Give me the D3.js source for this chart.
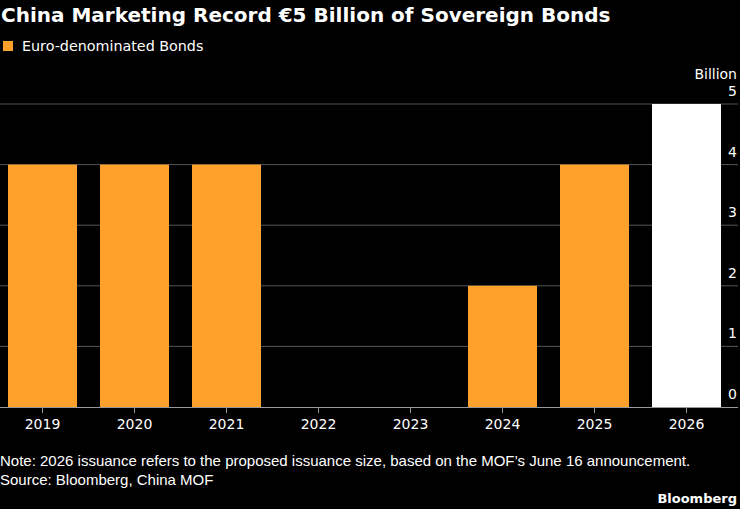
<!DOCTYPE html>
<html>
<head>
<meta charset="utf-8">
<script src="https://cdn.jsdelivr.net/npm/d3@7"></script>
<style>
  html, body { margin: 0; padding: 0; background: #000; }
  svg { display: block; }
  text { fill: #fff; }
</style>
</head>
<body>
<div id="chart"></div>
<script>
const years = ['2019', '2020', '2021', '2022', '2023', '2024', '2025', '2026'];
const amounts = [4, 4, 4, 0, 0, 2, 4, 5];
const proposed = [false, false, false, false, false, false, false, true];
const yTicks = [0, 1, 2, 3, 4, 5];

const W = 740, H = 509;
const plotTop = 104, plotBottom = 407;

const svg = d3.select('#chart').append('svg')
    .attr('width', W).attr('height', H);

svg.append('rect').attr('width', W).attr('height', H).attr('fill', '#000');

// title + legend
svg.append('text')
    .attr('x', 1).attr('y', 22)
    .style('font', 'bold 20px "DejaVu Sans"')
    .text('China Marketing Record €5 Billion of Sovereign Bonds');

svg.append('rect')
    .attr('x', 3).attr('y', 41).attr('width', 10).attr('height', 10)
    .attr('fill', '#ffa12b');
svg.append('text')
    .attr('x', 22).attr('y', 51)
    .style('font', '14.3px "DejaVu Sans"')
    .text('Euro-denominated Bonds');

const x = d3.scaleBand()
    .domain(years)
    .range([-3.5, 732.5])
    .paddingInner(0.25)
    .paddingOuter(0.125);

const y = d3.scaleLinear().domain([0, 5]).range([plotBottom, plotTop]);

// gridlines
svg.append('g')
  .selectAll('line').data(yTicks.filter(d => d > 0)).join('line')
    .attr('x1', 0).attr('x2', 738)
    .attr('y1', d => y(d)).attr('y2', d => y(d))
    .attr('stroke', '#555').attr('stroke-width', 1);

// bars
svg.append('g')
  .selectAll('rect').data(years).join('rect')
    .attr('x', d => x(d))
    .attr('width', x.bandwidth())
    .attr('y', (d, i) => y(amounts[i]))
    .attr('height', (d, i) => y(0) - y(amounts[i]))
    .attr('fill', (d, i) => proposed[i] ? '#ffffff' : '#ffa12b');

// baseline
svg.append('line')
    .attr('x1', 0).attr('x2', 738)
    .attr('y1', y(0) + 0.5).attr('y2', y(0) + 0.5)
    .attr('stroke', '#999');

// y labels (right side, above the lines)
svg.append('g')
  .selectAll('text').data(yTicks).join('text')
    .attr('x', 737).attr('y', d => y(d) - 8)
    .attr('text-anchor', 'end')
    .style('font', '14px "DejaVu Sans"')
    .text(d => d);

svg.append('text')
    .attr('x', 737).attr('y', 79)
    .attr('text-anchor', 'end')
    .style('font', '14px "DejaVu Sans"')
    .text('Billion');

// x axis
const xAxis = svg.append('g')
    .attr('transform', `translate(0,${plotBottom + 1})`)
    .call(d3.axisBottom(x).tickSize(5).tickPadding(6));
xAxis.select('.domain').remove();
xAxis.selectAll('line').attr('stroke', '#999');
xAxis.selectAll('text')
    .attr('fill', '#fff')
    .style('font', '14px "DejaVu Sans"');

// footer
svg.append('text')
    .attr('x', 0).attr('y', 466)
    .style('font', '15px "Liberation Sans"')
    .text('Note: 2026 issuance refers to the proposed issuance size, based on the MOF\u2019s June 16 announcement.');
svg.append('text')
    .attr('x', 0).attr('y', 485)
    .style('font', '15px "Liberation Sans"')
    .text('Source: Bloomberg, China MOF');
svg.append('text')
    .attr('x', 737).attr('y', 503)
    .attr('text-anchor', 'end')
    .style('font', 'bold 13px "DejaVu Sans"')
    .text('Bloomberg');
</script>
</body>
</html>
